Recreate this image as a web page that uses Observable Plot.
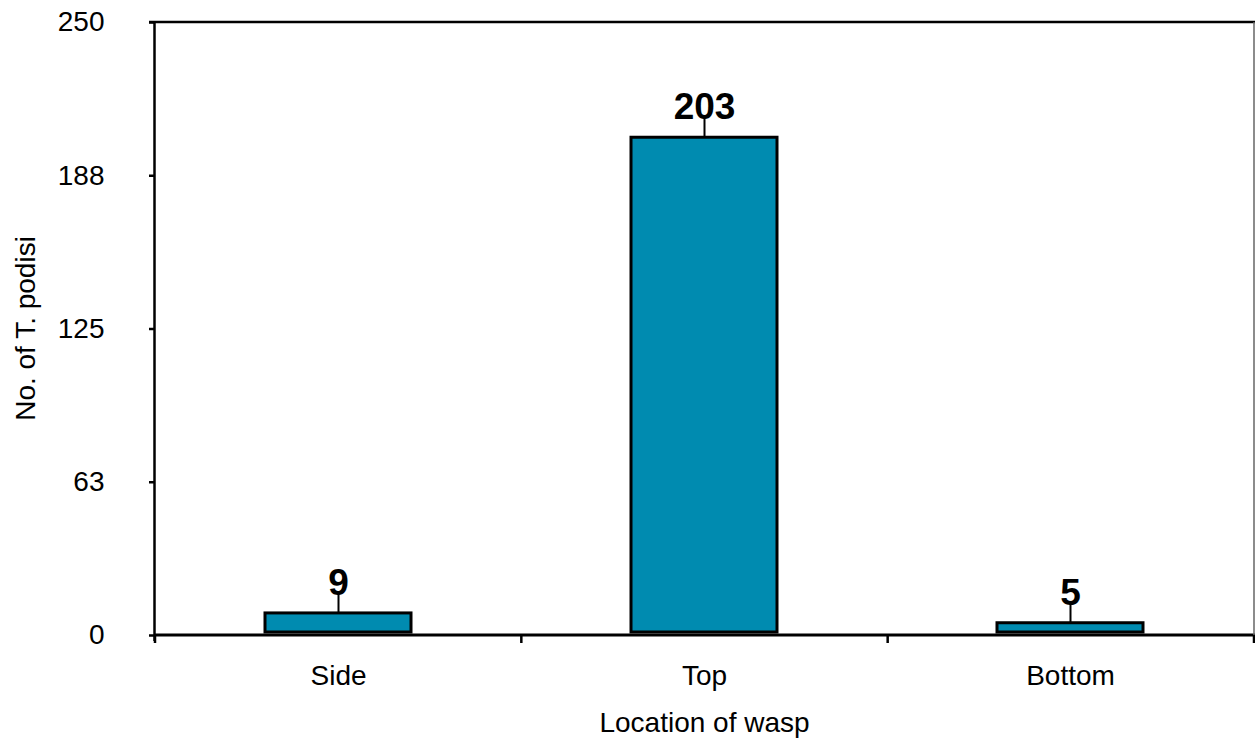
<!DOCTYPE html>
<html><head><meta charset="utf-8">
<script src="https://cdn.jsdelivr.net/npm/d3@7"></script>
<script src="https://cdn.jsdelivr.net/npm/@observablehq/plot@0.6"></script>
<style>body{margin:0;background:#fff;} #chart svg{display:block;}</style>
</head><body><div id="chart"></div>
<script>
const categories = ["Side", "Top", "Bottom"];
const counts = [9, 203, 5];
const errors = [8, 8, 8];
const yTicks = [0, 62.5, 125, 187.5, 250];
const yTickLabels = ["0", "63", "125", "188", "250"];
const xTitle = "Location of wasp";
const yTitle = "No. of T. podisi";

const data = categories.map((c, i) => ({loc: c, n: counts[i], err: errors[i]}));
const font = '"Liberation Sans", Arial, Helvetica, sans-serif';

function decorations(index, scales, values, dims) {
  const {marginLeft: ml, marginTop: mt, marginRight: mr, marginBottom: mb, width: w, height: h} = dims;
  const g = d3.create("svg:g");
  const y0 = scales.y(0);
  const yTop = scales.y(250);
  const xr = w - mr;
  // baseline
  g.append("line").attr("x1", ml).attr("x2", xr + 1).attr("y1", y0).attr("y2", y0)
    .attr("stroke", "black").attr("stroke-width", 3);
  // top border
  g.append("line").attr("x1", ml - 6).attr("x2", xr + 1).attr("y1", yTop).attr("y2", yTop)
    .attr("stroke", "black").attr("stroke-width", 2.5);
  // right border
  g.append("line").attr("x1", xr).attr("x2", xr).attr("y1", yTop).attr("y2", y0 + 6)
    .attr("stroke", "#666").attr("stroke-width", 1.5);
  // left axis line
  g.append("line").attr("x1", ml - 0.5).attr("x2", ml - 0.5).attr("y1", yTop - 1).attr("y2", y0 + 6)
    .attr("stroke", "black").attr("stroke-width", 2.5);
  // x band-boundary ticks
  const n = categories.length;
  for (let i = 0; i <= n; i++) {
    const bx = ml + i * (xr - ml) / n;
    g.append("line").attr("x1", bx).attr("x2", bx).attr("y1", y0).attr("y2", y0 + 8)
      .attr("stroke", "black").attr("stroke-width", 2.5);
  }
  // axis titles
  g.append("text").attr("x", (ml + xr) / 2).attr("y", h - 13)
    .attr("text-anchor", "middle").attr("font-size", 28).attr("font-family", font)
    .attr("fill", "black").text(xTitle);
  g.append("text").attr("transform", `translate(35,${(yTop + y0) / 2}) rotate(-90)`)
    .attr("text-anchor", "middle").attr("font-size", 28).attr("font-family", font)
    .attr("fill", "black").text(yTitle);
  return g.node();
}

const chart = Plot.plot({
  width: 1255,
  height: 745,
  marginLeft: 155,
  marginRight: 1,
  marginTop: 22,
  marginBottom: 110,
  style: {fontFamily: font, color: "black", background: "white"},
  x: {domain: categories, paddingInner: 0.6, paddingOuter: 0.3, axis: null},
  y: {domain: [0, 250], axis: null},
  marks: [
    Plot.axisY(yTicks, {tickFormat: d => yTickLabels[yTicks.indexOf(d)], tickSize: 6, tickPadding: 45,
      fontSize: 28, label: null, strokeWidth: 2.5}),
    Plot.axisX({tickSize: 0, tickPadding: 30, fontSize: 28, label: null}),
    Plot.ruleX(data, {x: "loc", y1: "n", y2: d => d.n + d.err, stroke: "black", strokeWidth: 2}),
    Plot.barY(data, {x: "loc", y: "n", fill: "#008bb0", stroke: "black", strokeWidth: 3, insetBottom: 3}),
    Plot.text(data, {x: "loc", y: d => d.n + d.err, text: d => String(d.n), fontSize: 37,
      fontWeight: "bold", lineAnchor: "bottom", dy: 1, fill: "black"}),
    decorations
  ]
});
document.getElementById("chart").append(chart);
</script>
</body></html>
